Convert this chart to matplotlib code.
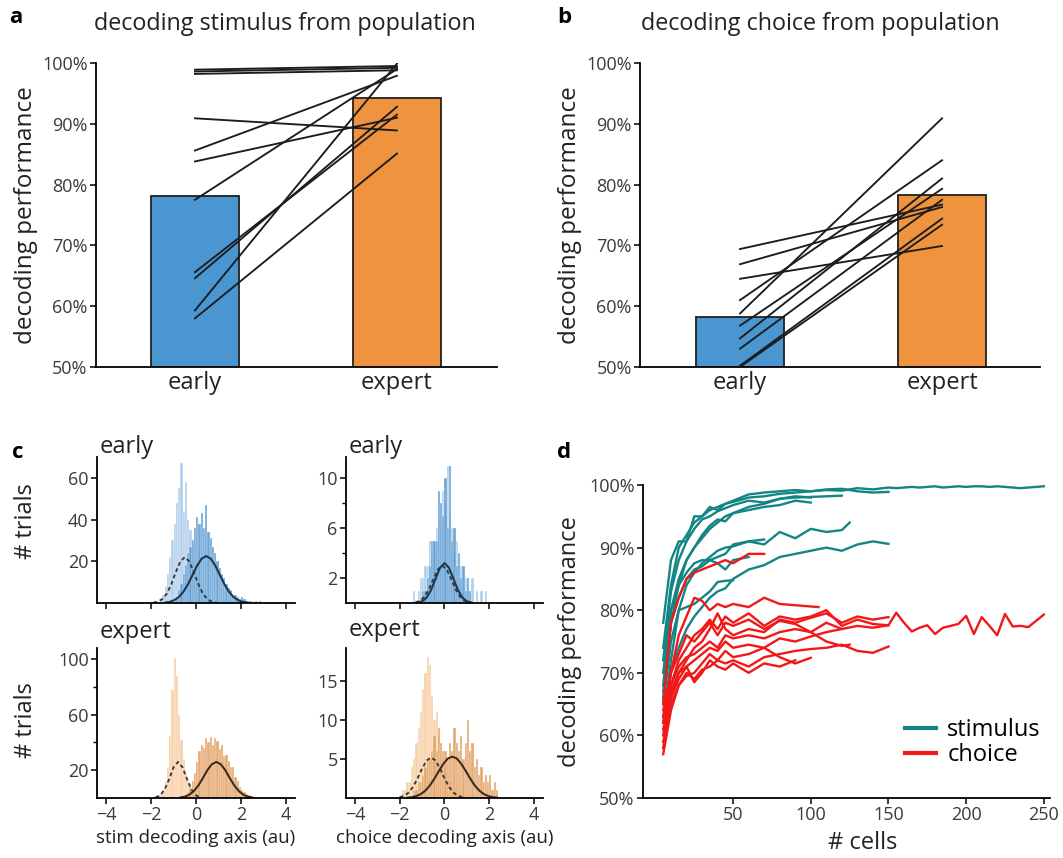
import numpy as np
import matplotlib.pyplot as plt
from matplotlib.lines import Line2D
from matplotlib.ticker import FuncFormatter

plt.rcParams['font.family'] = ['Open Sans', 'DejaVu Sans']
plt.rcParams['axes.linewidth'] = 1.3
plt.rcParams['xtick.major.width'] = 1.1
plt.rcParams['ytick.major.width'] = 1.1
plt.rcParams['ytick.minor.width'] = 1.0

# ---- panel a / b : population decoding, early vs expert ----
groups = ['early', 'expert']
stim_bar = [78.1, 94.3]
stim_early = [98.9, 98.6, 98.2, 90.9, 85.6, 83.8, 77.5, 65.6, 64.6, 59.3, 58.0]
stim_expert = [99.5, 99.2, 98.8, 88.9, 97.9, 91.0, 99.0, 91.5, 92.8, 99.9, 85.1]
choice_bar = [58.2, 78.3]
choice_early = [69.4, 66.9, 64.5, 61.0, 58.8, 56.8, 54.7, 53.0, 50.2, 50.0]
choice_expert = [76.7, 76.3, 69.9, 84.0, 90.9, 79.3, 81.0, 77.5, 74.4, 73.4]

# ---- panel c : projections on decoding axes (bins of 0.1, first bin left edge) ----
bin_w = 0.1
stim_early_a_start = -1.6
stim_early_a = [2, 4, 8, 14, 22, 30, 38, 48, 55, 67, 44, 58, 40, 35, 28, 20, 14, 9, 6, 4, 2, 1]
stim_early_b_start = -1.0
stim_early_b = [1, 3, 6, 9, 14, 18, 24, 27, 30, 36, 41, 38, 43, 36, 47, 34, 31, 27, 24, 20,
                17, 14, 12, 9, 7, 6, 4, 4, 3, 2, 3, 2, 1, 1, 1, 0, 1, 0, 1]
stim_expert_a_start = -1.9
stim_expert_a = [1, 1, 2, 3, 6, 12, 22, 45, 78, 101, 88, 60, 42, 28, 18, 12, 8, 5, 3, 2, 1]
stim_expert_b_start = -0.6
stim_expert_b = [1, 2, 4, 7, 12, 18, 26, 34, 38, 36, 43, 40, 44, 38, 43, 41, 35, 38, 30, 31,
                 27, 22, 22, 15, 12, 8, 6, 4, 3, 2, 1]
choice_early_a_start = -1.4
choice_early_a = [1, 0, 1, 2, 2, 3, 3, 5, 4, 5, 6, 7, 6, 9, 8, 11, 7, 6, 4, 5, 2, 3, 1, 2, 1,
                  0, 2, 0, 1, 0, 1, 0, 1]
choice_early_b_start = -1.0
choice_early_b = [1, 1, 2, 3, 5, 5, 5, 9, 8, 7, 10, 6, 11, 5, 6, 3, 4, 2, 3, 1, 2, 1]
choice_expert_a_start = -1.9
choice_expert_a = [1, 1, 2, 2, 4, 5, 7, 9, 11, 14, 16, 18, 17, 13, 10, 11, 8, 6, 5, 4, 3, 3,
                   2, 1, 2, 1, 1, 1]
choice_expert_b_start = -1.4
choice_expert_b = [1, 1, 2, 2, 3, 4, 5, 5, 6, 8, 6, 9, 7, 6, 6, 5, 7, 6, 9, 7, 6, 8, 5, 7, 10,
                   6, 7, 4, 5, 3, 4, 2, 3, 2, 3, 1, 2, 1]

# fitted curves, sampled every 0.2 au from the given start
fit_step = 0.2
stim_early_fit_a_start = -1.9
stim_early_fit_a = [0.2, 0.6, 1.9, 4.5, 9.0, 14.8, 19.9, 22.0, 19.9, 14.8, 9.0, 4.5, 1.9, 0.6, 0.2]
stim_early_fit_b_start = -1.35
stim_early_fit_b = [0.25, 0.6, 1.5, 3.0, 5.6, 9.2, 13.6, 18.0, 21.3, 22.5, 21.3, 18.0, 13.6,
                    9.2, 5.6, 3.0, 1.5, 0.6, 0.25]
stim_expert_fit_a_start = -1.8
stim_expert_fit_a = [0.4, 1.9, 6.0, 13.5, 22.1, 26.0, 22.1, 13.5, 6.0, 1.9, 0.4]
stim_expert_fit_b_start = -0.7
stim_expert_fit_b = [0.4, 1.0, 2.4, 5.0, 9.0, 14.3, 20.0, 24.3, 26.0, 24.3, 20.0, 14.3, 9.0,
                     5.0, 2.4, 1.0, 0.4]
choice_early_fit_a_start = -1.3
choice_early_fit_a = [0.05, 0.18, 0.49, 1.08, 1.91, 2.68, 3.0, 2.68, 1.91, 1.08, 0.49, 0.18, 0.05]
choice_early_fit_b_start = -1.2
choice_early_fit_b = [0.04, 0.14, 0.43, 1.04, 1.94, 2.82, 3.2, 2.82, 1.94, 1.04, 0.43, 0.14, 0.04]
choice_expert_fit_a_start = -2.0
choice_expert_fit_a = [0.10, 0.29, 0.70, 1.45, 2.53, 3.78, 4.80, 5.2, 4.80, 3.78, 2.53, 1.45,
                       0.70, 0.29, 0.10]
choice_expert_fit_b_start = -1.65
choice_expert_fit_b = [0.05, 0.11, 0.26, 0.52, 0.96, 1.62, 2.49, 3.46, 4.38, 5.06, 5.3, 5.06,
                       4.38, 3.46, 2.49, 1.62, 0.96, 0.52, 0.26, 0.11, 0.05]

# ---- panel d : decoding vs number of cells (one list per session) ----
stim_ends = [250, 150, 120, 100, 125, 150, 70, 50, 60, 100]
stim_curves = [
    [74, 84, 90, 92, 94, 95, 96, 96.5, 97, 97.3, 98, 98.2, 98.6, 98.8, 99, 99.2, 99.1, 99.5,
     99.3, 99.6, 99.5, 99.6, 99.7, 99.6, 99.7, 99.8, 99.6, 99.7, 99.8, 99.7, 99.8, 99.8, 99.7,
     99.8, 99.7, 99.6, 99.5, 99.6, 99.7, 99.8],
    [78, 88, 91, 91, 95, 95, 96.5, 96, 97, 97.5, 98.5, 98.8, 99, 99.2, 99, 99.3, 99.4, 99,
     98.8, 98.9],
    [72, 83, 88, 91, 93, 94.5, 95, 95.8, 96.3, 96.8, 97.5, 97.2, 97.8, 98, 98.1, 98.2, 98.3],
    [70, 80, 85, 88, 90, 92, 93.5, 94.5, 94.2, 95.5, 96, 96.5, 96.8, 97.5, 97.2],
    [62, 72, 80, 84, 86, 87.5, 88.5, 89.5, 90, 90.2, 91, 90.5, 92.5, 91.5, 93, 92.5, 92.8, 94],
    [63, 70, 74, 77, 79, 80.5, 82, 83, 83.5, 85, 86.5, 87.2, 88.5, 89, 89.5, 90, 89.5, 90.5,
     91, 90.6],
    [68, 80, 84, 86, 87.5, 88, 88, 88.5, 89, 90.5, 91, 91.3],
    [65, 75, 80, 80.5, 81, 82, 83, 84.5, 84.7, 84.8],
    [66, 78, 82, 85, 86.5, 87, 88, 87.5, 86.5, 88, 88.5],
    [67, 78, 84, 88, 90, 91.5, 93, 94, 95, 95.5, 96.5, 97, 97.8, 98.2, 98],
]
choice_ends = [70, 105, 250, 150, 150, 150, 120, 100, 90, 125]
choice_curves = [
    [65, 78, 82, 85, 86, 86.5, 87, 87.5, 88, 87.5, 89, 89],
    [60, 70, 76, 79, 82, 81.5, 80, 81, 80.5, 81, 80.5, 82, 81, 80.8, 80.6, 80.5],
    [62, 68, 72, 74, 76, 77, 78.5, 77, 79, 78, 79.5, 77.5, 79, 78.5, 79, 80, 77.5, 78.5, 77.8,
     77.6, 79.6, 78.0, 76.6, 77.2, 77.6, 76.2, 77.2, 77.5, 77.8, 79.1, 76.2, 78.9, 77.5, 76.0,
     79.4, 77.4, 77.5, 77.3, 78.3, 79.3],
    [58, 66, 70, 72, 74, 75, 77, 79.5, 77, 76, 77, 76.5, 78.5, 78, 78.8, 79.5, 78, 79, 78.5, 78.9],
    [63, 68, 71, 72.5, 73, 74, 75, 74, 76, 75.5, 76, 75.5, 76.5, 77, 76.5, 78, 77, 77.5, 77.2, 77.6],
    [57, 64, 68, 70, 69, 70.5, 71, 72, 71.5, 72, 71, 72.5, 73, 73.5, 73.8, 74, 74.5, 73.5, 73.2, 74.2],
    [61, 66, 69, 71, 72, 73, 74, 73.5, 75, 74, 74.5, 74, 75.5, 75, 75.8, 76.5, 77],
    [59, 65, 68, 69.5, 70, 71.5, 73, 72, 73.5, 72.5, 73, 74, 72.5, 71.5, 72.4],
    [62, 67, 70, 71, 68.5, 70, 72, 71, 70.5, 71.5, 70, 71.5, 71, 72],
    [64, 70, 73, 76, 75, 76.5, 78, 76, 78, 77.5, 78.5, 77, 78.3, 77.8, 76.5, 75, 74.3, 74.5],
]

blue = '#4a96d1'
orange = '#f0933f'
teal = '#138585'
red = '#f21818'
tick_col = '#3a3a3a'
text_col = '#222222'
pct = FuncFormatter(lambda v, p: f'{v:.0f}%')


def cell_grid(n):
    xs = list(range(5, 51, 5)) + list(range(60, min(n, 150) + 1, 10))
    if n > 150:
        xs += list(range(155, n + 1, 5))
    if xs[-1] != n:
        xs.append(n)
    return xs


def clean(ax):
    ax.spines['top'].set_visible(False)
    ax.spines['right'].set_visible(False)


def bar_panel(ax, bars, early, expert):
    ax.bar([0, 1], bars, width=0.436, color=[blue, orange], edgecolor='#202020',
           linewidth=1.3, zorder=2)
    for e, x in zip(early, expert):
        ax.plot([0, 1], [e, x], color='#1c1c1c', lw=1.35, zorder=3)
    ax.set_ylim(50, 100)
    ax.set_yticks([50, 60, 70, 80, 90, 100])
    ax.yaxis.set_major_formatter(pct)
    ax.set_xticks([0, 1])
    ax.set_xticklabels(groups, fontsize=17, color=text_col)
    ax.tick_params(axis='x', length=0, pad=3)
    ax.tick_params(axis='y', labelsize=13, labelcolor=tick_col, length=4, pad=2)
    ax.set_ylabel('decoding performance', fontsize=17.5, color=text_col)
    clean(ax)


def hist_panel(ax, a_start, a, b_start, b, fa_start, fa, fb_start, fb, light, dark, line_col):
    xa = a_start + bin_w * np.arange(len(a))
    xb = b_start + bin_w * np.arange(len(b))
    ax.bar(xa, a, width=bin_w, align='edge', color=light, edgecolor='white', linewidth=0.25)
    ax.bar(xb, b, width=bin_w, align='edge', color=dark, alpha=0.85, edgecolor='white',
           linewidth=0.25)
    ax.plot(fa_start + fit_step * np.arange(len(fa)), fa, color='#333a40', lw=1.35,
            ls=(0, (2, 1.6)))
    ax.plot(fb_start + fit_step * np.arange(len(fb)), fb, color=line_col, lw=1.45)
    ax.set_xlim(-4.4, 4.4)
    ax.set_xticks([-4, -2, 0, 2, 4])
    ax.tick_params(labelsize=13, labelcolor=tick_col, length=4, pad=2)
    ax.tick_params(which='minor', length=3)
    clean(ax)


fig = plt.figure(figsize=(10.63, 8.58), dpi=100)

ax_a = fig.add_axes([0.0903, 0.5723, 0.3772, 0.3543])
bar_panel(ax_a, stim_bar, stim_early, stim_expert)
ax_a.set_xlim(-0.49, 1.495)
ax_a.yaxis.set_label_coords(-0.145, 0.5)

ax_b = fig.add_axes([0.6021, 0.5723, 0.3763, 0.3543])
bar_panel(ax_b, choice_bar, choice_early, choice_expert)
ax_b.set_xlim(-0.495, 1.485)
ax_b.yaxis.set_label_coords(-0.145, 0.5)

fig.text(0.268, 0.965, 'decoding stimulus from population', fontsize=16.8, ha='center',
         va='baseline', color=text_col)
fig.text(0.772, 0.965, 'decoding choice from population', fontsize=16.8, ha='center',
         va='baseline', color=text_col)

# panel c
light_blue, dark_blue = '#b0cdea', '#5699d1'
light_orange, dark_orange = '#f9cfa6', '#e29d5b'

ax_c1 = fig.add_axes([0.0913, 0.2972, 0.1863, 0.1702])
hist_panel(ax_c1, stim_early_a_start, stim_early_a, stim_early_b_start, stim_early_b,
           stim_early_fit_a_start, stim_early_fit_a, stim_early_fit_b_start, stim_early_fit_b,
           light_blue, dark_blue, '#1f3447')
ax_c1.set_ylim(0, 70)
ax_c1.set_yticks([20, 40, 60])
ax_c1.set_xticklabels([])

ax_c2 = fig.add_axes([0.3255, 0.2972, 0.1853, 0.1702])
hist_panel(ax_c2, choice_early_a_start, choice_early_a, choice_early_b_start, choice_early_b,
           choice_early_fit_a_start, choice_early_fit_a, choice_early_fit_b_start,
           choice_early_fit_b, light_blue, dark_blue, '#1f3447')
ax_c2.set_ylim(0, 11.7)
ax_c2.set_yticks([2, 6, 10])
ax_c2.set_yticks([4, 8], minor=True)
ax_c2.set_xticklabels([])

ax_c3 = fig.add_axes([0.0913, 0.0699, 0.1863, 0.1748])
hist_panel(ax_c3, stim_expert_a_start, stim_expert_a, stim_expert_b_start, stim_expert_b,
           stim_expert_fit_a_start, stim_expert_fit_a, stim_expert_fit_b_start,
           stim_expert_fit_b, light_orange, dark_orange, '#3b2a1b')
ax_c3.set_ylim(0, 108)
ax_c3.set_yticks([20, 60, 100])
ax_c3.set_yticks([40, 80], minor=True)
ax_c3.set_xlabel('stim decoding axis (au)', fontsize=13.5, color=text_col, labelpad=3)

ax_c4 = fig.add_axes([0.3255, 0.0699, 0.1853, 0.1748])
hist_panel(ax_c4, choice_expert_a_start, choice_expert_a, choice_expert_b_start,
           choice_expert_b, choice_expert_fit_a_start, choice_expert_fit_a,
           choice_expert_fit_b_start, choice_expert_fit_b, light_orange, dark_orange, '#3b2a1b')
ax_c4.set_ylim(0, 19.2)
ax_c4.set_yticks([5, 10, 15])
ax_c4.set_xlabel('choice decoding axis (au)', fontsize=13.5, color=text_col, labelpad=3)

for ax, name, yb in [(ax_c1, 'early', 1.027), (ax_c2, 'early', 1.027),
                     (ax_c3, 'expert', 1.067), (ax_c4, 'expert', 1.08)]:
    ax.text(0.015, yb, name, transform=ax.transAxes, fontsize=17, va='baseline', color=text_col)

ax_c1.set_ylabel('# trials', fontsize=17, color=text_col)
ax_c1.yaxis.set_label_coords(-0.30, 0.56)
ax_c3.set_ylabel('# trials', fontsize=17, color=text_col)
ax_c3.yaxis.set_label_coords(-0.30, 0.52)

# panel d
ax_d = fig.add_axes([0.6049, 0.0699, 0.3829, 0.3648])
for n, vals in zip(stim_ends, stim_curves):
    ax_d.plot(cell_grid(n), vals, color=teal, lw=1.7)
for n, vals in zip(choice_ends, choice_curves):
    ax_d.plot(cell_grid(n), vals, color=red, lw=1.7)
ax_d.set_xlim(-8, 254)
ax_d.set_ylim(50, 100)
ax_d.set_xticks([50, 100, 150, 200, 250])
ax_d.set_yticks([50, 60, 70, 80, 90, 100])
ax_d.yaxis.set_major_formatter(pct)
ax_d.tick_params(labelsize=13, labelcolor=tick_col, length=4, pad=2)
ax_d.set_xlabel('# cells', fontsize=17, color=text_col, labelpad=4)
ax_d.xaxis.set_label_coords(0.54, -0.105)
ax_d.set_ylabel('decoding performance', fontsize=17, color=text_col)
ax_d.yaxis.set_label_coords(-0.15, 0.5)
clean(ax_d)
handles = [Line2D([], [], color=teal, lw=3), Line2D([], [], color=red, lw=3)]
ax_d.legend(handles, ['stimulus', 'choice'], loc='lower right', bbox_to_anchor=(1.03, 0.03),
            frameon=False, fontsize=17, handlelength=1.3, handletextpad=0.5, labelspacing=0.05)

for x, y, letter in [(0.009, 0.973, 'a'), (0.524, 0.973, 'b'), (0.011, 0.466, 'c'),
                     (0.524, 0.466, 'd')]:
    fig.text(x, y, letter, fontsize=16, fontweight='bold', va='baseline')

fig.savefig('out.png', dpi=100)
